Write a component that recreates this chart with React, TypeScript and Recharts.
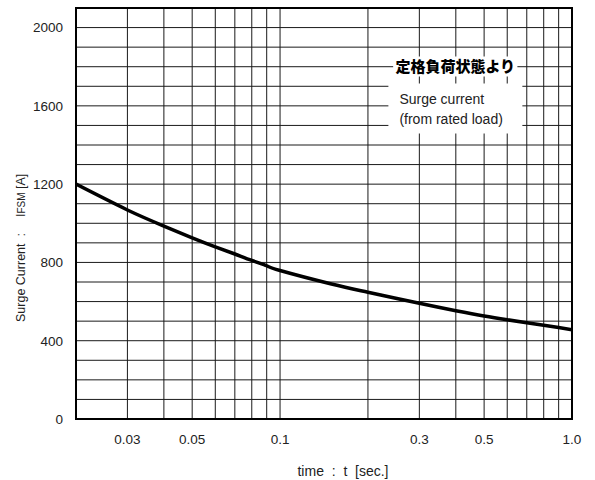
import React from 'react';
import {
  LineChart,
  Line,
  XAxis,
  YAxis,
  CartesianGrid,
  ReferenceArea,
  Label,
} from 'recharts';

// surge current (time in seconds, current in A)
const times = [0.02, 0.03, 0.04, 0.05, 0.06, 0.07, 0.08, 0.09, 0.1, 0.15, 0.2, 0.3, 0.4, 0.5, 0.6, 0.7, 0.8, 0.9, 1.0];
const currents = [1200, 1068, 986, 926, 880, 843, 810, 783, 759, 690, 648, 591, 553, 526, 507, 492, 479, 467, 456];

const xGrid = [0.02, 0.03, 0.04, 0.05, 0.06, 0.07, 0.08, 0.09, 0.1, 0.2, 0.3, 0.4, 0.5, 0.6, 0.7, 0.8, 0.9, 1.0];
const xLabels = ['0.03', '0.05', '0.1', '0.3', '0.5', '1.0'];
const yGrid = Array.from({ length: 22 }, (_, i) => i * 100);
const yLabels = [0, 400, 800, 1200, 1600, 2000];

const data = times.map((t, i) => ({ t, i: currents[i] }));

const FONT = '"Liberation Sans", Arial, sans-serif';
const JP_FONT = '"Noto Sans CJK JP", sans-serif';

const fmtX = (v: number) => {
  const s = v === 1 ? '1.0' : String(+v.toFixed(2));
  return xLabels.includes(s) ? s : '';
};
const fmtY = (v: number) => (yLabels.includes(v) ? String(v) : '');

const YTitle = () => (
  <text
    transform="translate(25,322) rotate(-90)"
    fontFamily={FONT}
    fontSize={12.5}
    fill="#222"
    style={{ whiteSpace: 'pre' }}
  >
    <tspan>Surge Current  :</tspan>
    <tspan dx={16}>I</tspan>
    <tspan fontSize={10}>FSM</tspan>
    <tspan> [A]</tspan>
  </text>
);

const XTitle = () => (
  <text x={343} y={476} textAnchor="middle" fontFamily={FONT} fontSize={14} fill="#222" style={{ whiteSpace: 'pre' }}>
    time  :  t  [sec.]
  </text>
);

const JpNote = (props: any) => {
  const { x, y, width, height } = props.viewBox;
  return (
    <text x={x + width / 2} y={y + height / 2 + 5} textAnchor="middle" fontFamily={JP_FONT} fontWeight={900} fontSize={15} fill="#000">
      定格負荷状態より
    </text>
  );
};

const EnNote = (props: any) => {
  const { x, y } = props.viewBox;
  return (
    <text fontFamily={FONT} fontSize={14} fill="#222">
      <tspan x={x + 11} y={y + 20}>Surge current</tspan>
      <tspan x={x + 11} y={y + 40}>(from rated load)</tspan>
    </text>
  );
};

export default function App() {
  return (
    <div style={{ position: 'absolute', left: 0, top: 0, background: '#fff' }}>
      <LineChart width={595} height={480} data={data} margin={{ top: 8, right: 23, bottom: 0, left: 0 }}>
        <CartesianGrid stroke="#1a1a1a" strokeWidth={1} />
        <XAxis
          dataKey="t"
          type="number"
          scale="log"
          domain={[0.02, 1]}
          ticks={xGrid}
          interval={0}
          tickFormatter={fmtX}
          tickLine={false}
          axisLine={false}
          tickSize={0}
          tickMargin={15}
          height={61}
          tick={{ fill: '#222', fontSize: 13.5, fontFamily: FONT }}
          allowDataOverflow
        >
          <Label content={XTitle} />
        </XAxis>
        <YAxis
          type="number"
          domain={[0, 2100]}
          ticks={yGrid}
          interval={0}
          tickFormatter={fmtY}
          tickLine={false}
          axisLine={false}
          tickSize={0}
          tickMargin={13}
          width={76}
          tick={{ fill: '#222', fontSize: 13.5, fontFamily: FONT }}
        >
          <Label content={YTitle} />
        </YAxis>
        <ReferenceArea x1={0.244} x2={0.65} y1={1750} y2={1852} fill="#fff" fillOpacity={1} stroke="none">
          <Label content={JpNote} />
        </ReferenceArea>
        <ReferenceArea x1={0.235} x2={0.676} y1={1459} y2={1714} fill="#fff" fillOpacity={1} stroke="none">
          <Label content={EnNote} />
        </ReferenceArea>
        <Line dataKey="i" type="natural" stroke="#000" strokeWidth={3.5} dot={false} isAnimationActive={false} />
        <ReferenceArea x1={0.02} x2={1} y1={0} y2={2100} fill="none" stroke="#000" strokeWidth={2} />
      </LineChart>
    </div>
  );
}
